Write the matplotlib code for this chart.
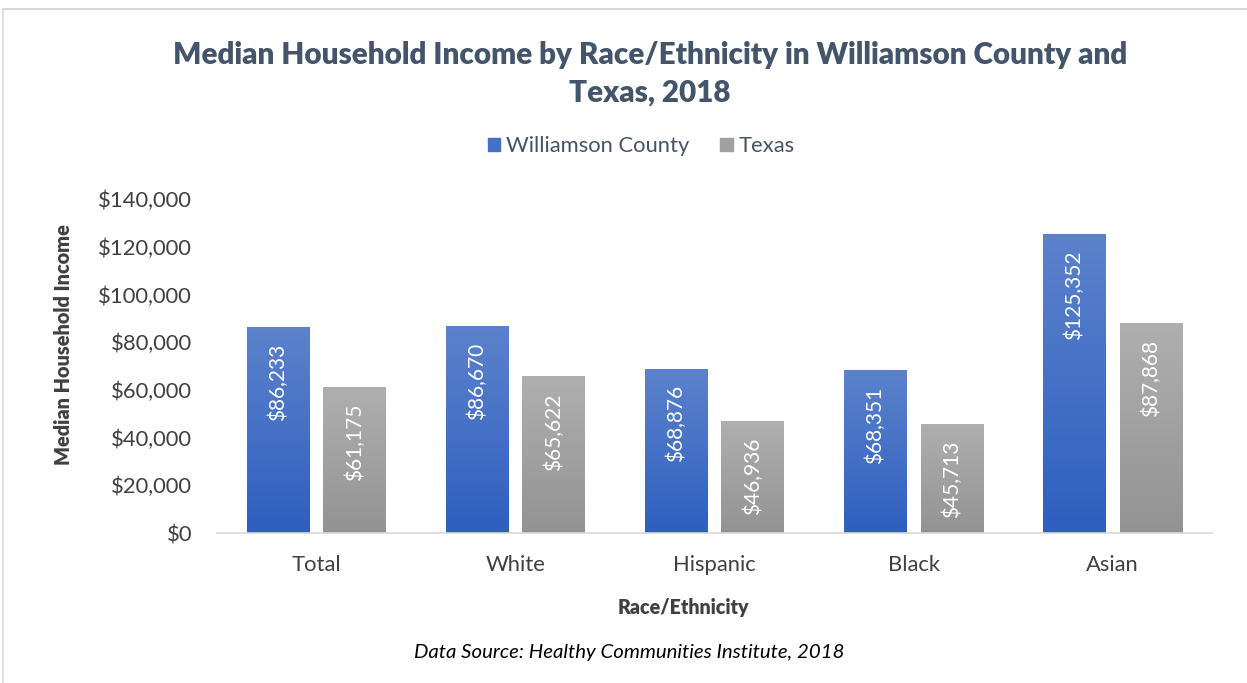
import matplotlib
matplotlib.use("Agg")
import matplotlib.pyplot as plt
import numpy as np
from matplotlib.colors import LinearSegmentedColormap
from matplotlib.patches import Rectangle

categories = ["Total", "White", "Hispanic", "Black", "Asian"]
williamson = [86233, 86670, 68876, 68351, 125352]
texas = [61175, 65622, 46936, 45713, 87868]
series_names = ["Williamson County", "Texas"]
yticks = [0, 20000, 40000, 60000, 80000, 100000, 120000, 140000]

plt.rcParams['font.family'] = ['Lato', 'DejaVu Sans']

fig = plt.figure(figsize=(12.47, 6.83), dpi=100)
ax = fig.add_axes([0.174, 0.2196, 0.798, 0.489])

x = np.arange(len(categories))
w = 0.316
off = 0.193
blue_cmap = LinearSegmentedColormap.from_list("b", ["#2e5fbf", "#5c82cc"])
gray_cmap = LinearSegmentedColormap.from_list("g", ["#939393", "#afafaf"])

grad = np.linspace(0, 1, 256).reshape(-1, 1)
for vals, dx, cmap, name in [(williamson, -off, blue_cmap, series_names[0]),
                             (texas, off, gray_cmap, series_names[1])]:
    bars = ax.bar(x + dx, vals, width=w, color="none", edgecolor="none", label=name, zorder=2)
    for b, v in zip(bars, vals):
        x0, x1 = b.get_x(), b.get_x() + b.get_width()
        im = ax.imshow(grad, extent=[x0, x1, 0, v], origin="lower", cmap=cmap,
                       aspect="auto", zorder=2)
        im.set_clip_path(b)
        lbl = "${:,.0f}".format(v)
        ax.annotate(lbl, xy=(b.get_x() + b.get_width() / 2, v), xytext=(0, -12),
                    textcoords="offset points", rotation=90, ha="center", va="top",
                    color="white", fontsize=15)

ax.set_xlim(-0.5, 4.5)
ax.set_ylim(0, 140000)
ax.set_yticks(yticks)
ax.set_yticklabels(["${:,.0f}".format(t) for t in yticks])
ax.set_xticks(x)
ax.set_xticklabels(categories)
ax.tick_params(axis="both", length=0, labelsize=15.8, labelcolor="#404040")
ax.tick_params(axis="y", pad=18)
ax.tick_params(axis="x", pad=16)
for s in ["top", "right", "left"]:
    ax.spines[s].set_visible(False)
ax.spines["bottom"].set_color("#d9d9d9")
ax.spines["bottom"].set_linewidth(1.2)

ax.set_ylabel("Median Household Income", fontsize=14.3, fontweight="heavy", color="#404040")
ax.yaxis.set_label_coords(-0.145, 0.563)
ax.set_xlabel("Race/Ethnicity", fontsize=14.1, fontweight="heavy", color="#404040")
ax.xaxis.set_label_coords(0.469, -0.196)

handles = [Rectangle((0, 0), 1, 1, color="#4470c6"), Rectangle((0, 0), 1, 1, color="#a0a0a0")]
fig.legend(handles, series_names, loc="center", bbox_to_anchor=(0.5144, 0.786), ncol=2,
           frameon=False, fontsize=15.8, labelcolor="#44546a", handlelength=0.55,
           handleheight=0.55, handletextpad=0.27, columnspacing=1.4)

fig.text(0.521, 0.892, "Median Household Income by Race/Ethnicity in Williamson County and\nTexas, 2018",
         ha="center", va="center", fontsize=21.3, fontweight="heavy", color="#44546a",
         linespacing=1.45)
fig.text(0.505, 0.045, "Data Source: Healthy Communities Institute, 2018", ha="center", va="center",
         fontsize=14.7, style="italic", color="black")

# chart border
fig.add_artist(plt.Line2D([0.0028, 1.0], [0.987, 0.987], transform=fig.transFigure, color="#d9d9d9", lw=1.5))
fig.add_artist(plt.Line2D([0.0028, 0.0028], [0.0, 0.987], transform=fig.transFigure, color="#d9d9d9", lw=1.2))

fig.savefig("out.png", dpi=100)
